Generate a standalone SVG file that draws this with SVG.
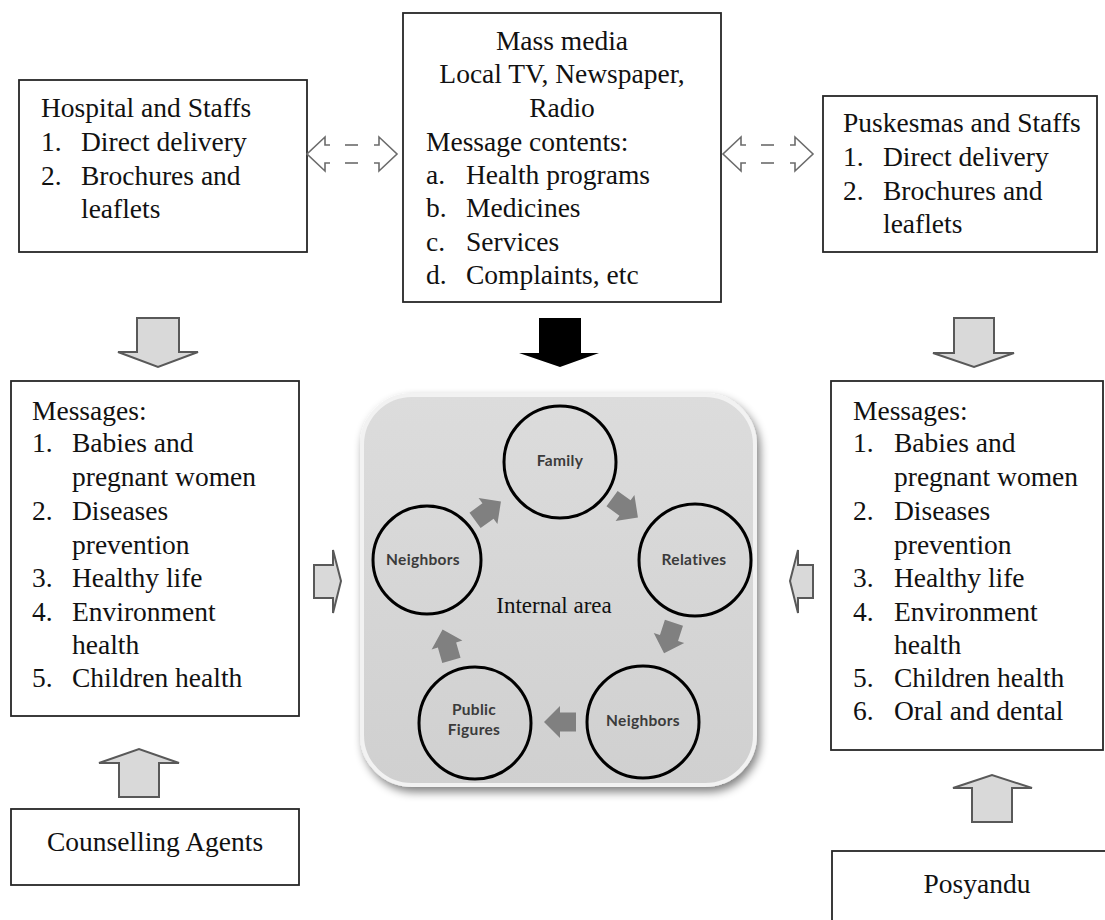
<svg xmlns="http://www.w3.org/2000/svg" width="1105" height="920" viewBox="0 0 1105 920">
<style>
.box{fill:#fff;stroke:#262626;stroke-width:1.8}
.t{font-family:"Liberation Serif","Times New Roman",serif;font-size:27.5px;fill:#111}
.m{text-anchor:middle}
.blk{fill:#d9d9d9;stroke:#595959;stroke-width:2}
.circ{fill:none;stroke:#000;stroke-width:3}
.cl{font-family:Lato,"Open Sans",sans-serif;font-weight:bold;font-size:15.5px;fill:#3b3b3b;text-anchor:middle;letter-spacing:0.3px}
.dash{fill:none;stroke:#6b6b6b;stroke-width:1.6}
.sa{fill:#808080}
</style>
<defs>
<filter id="sh" x="-10%" y="-10%" width="125%" height="125%">
<feGaussianBlur in="SourceAlpha" stdDeviation="5"/>
<feOffset dx="3" dy="5" result="b"/>
<feComponentTransfer><feFuncA type="linear" slope="0.5"/></feComponentTransfer>
<feMerge><feMergeNode/><feMergeNode in="SourceGraphic"/></feMerge>
</filter>
<linearGradient id="pg" x1="0" y1="0" x2="0" y2="1">
<stop offset="0" stop-color="#dcdcdc"/>
<stop offset="1" stop-color="#d0d0d0"/>
</linearGradient>
<path id="ca" d="M-16,-9.5 H0 V-16 L16,0 L0,16 V9.5 H-16 Z"/>
</defs>
<rect width="1105" height="920" fill="#fff"/>

<g id="hospital">
<rect class="box" x="19" y="80" width="288" height="172"/>
<text class="t" x="41" y="117">Hospital and Staffs</text>
<text class="t" x="41" y="151">1.</text><text class="t" x="81" y="151">Direct delivery</text>
<text class="t" x="41" y="185">2.</text><text class="t" x="81" y="185">Brochures and</text>
<text class="t" x="81" y="218">leaflets</text>
</g>

<g id="massmedia">
<rect class="box" x="403" y="13" width="318" height="289"/>
<text class="t m" x="562" y="50">Mass media</text>
<text class="t m" x="562" y="83">Local TV, Newspaper,</text>
<text class="t m" x="562" y="117">Radio</text>
<text class="t" x="426" y="151">Message contents:</text>
<text class="t" x="426" y="184">a.</text><text class="t" x="466" y="184">Health programs</text>
<text class="t" x="426" y="217">b.</text><text class="t" x="466" y="217">Medicines</text>
<text class="t" x="426" y="251">c.</text><text class="t" x="466" y="251">Services</text>
<text class="t" x="426" y="284">d.</text><text class="t" x="466" y="284">Complaints, etc</text>
</g>

<g id="puskesmas">
<rect class="box" x="823" y="96" width="274" height="156"/>
<text class="t" x="843" y="132">Puskesmas and Staffs</text>
<text class="t" x="843" y="166">1.</text><text class="t" x="883" y="166">Direct delivery</text>
<text class="t" x="843" y="200">2.</text><text class="t" x="883" y="200">Brochures and</text>
<text class="t" x="883" y="233">leaflets</text>
</g>

<g id="messages-left">
<rect class="box" x="11" y="381" width="288" height="335"/>
<text class="t" x="32" y="420">Messages:</text>
<text class="t" x="32" y="452">1.</text><text class="t" x="72" y="452">Babies and</text>
<text class="t" x="72" y="486">pregnant women</text>
<text class="t" x="32" y="520">2.</text><text class="t" x="72" y="520">Diseases</text>
<text class="t" x="72" y="554">prevention</text>
<text class="t" x="32" y="587">3.</text><text class="t" x="72" y="587">Healthy life</text>
<text class="t" x="32" y="621">4.</text><text class="t" x="72" y="621">Environment</text>
<text class="t" x="72" y="654">health</text>
<text class="t" x="32" y="687">5.</text><text class="t" x="72" y="687">Children health</text>
</g>

<g id="messages-right">
<rect class="box" x="831" y="381" width="272" height="369"/>
<text class="t" x="853" y="420">Messages:</text>
<text class="t" x="853" y="452">1.</text><text class="t" x="894" y="452">Babies and</text>
<text class="t" x="894" y="486">pregnant women</text>
<text class="t" x="853" y="520">2.</text><text class="t" x="894" y="520">Diseases</text>
<text class="t" x="894" y="554">prevention</text>
<text class="t" x="853" y="587">3.</text><text class="t" x="894" y="587">Healthy life</text>
<text class="t" x="853" y="621">4.</text><text class="t" x="894" y="621">Environment</text>
<text class="t" x="894" y="654">health</text>
<text class="t" x="853" y="687">5.</text><text class="t" x="894" y="687">Children health</text>
<text class="t" x="853" y="720">6.</text><text class="t" x="894" y="720">Oral and dental</text>
</g>

<g id="counselling">
<rect class="box" x="11" y="809" width="288" height="76"/>
<text class="t m" x="155" y="851">Counselling Agents</text>
</g>

<g id="posyandu">
<rect class="box" x="832" y="851" width="290" height="80"/>
<text class="t m" x="977" y="893">Posyandu</text>
</g>

<g id="internal-area">
<rect x="362" y="395" width="393" height="390" rx="50" fill="url(#pg)" stroke="#f2f2f2" stroke-width="4" filter="url(#sh)"/>
<text class="t m" x="554" y="613" style="font-size:23px">Internal area</text>
<g id="family"><circle class="circ" cx="560" cy="462" r="56"/><text class="cl" x="560" y="466">Family</text></g>
<g id="relatives"><circle class="circ" cx="695" cy="560" r="56"/><text class="cl" x="694" y="565">Relatives</text></g>
<g id="neighbors-right"><circle class="circ" cx="643" cy="722" r="56"/><text class="cl" x="643" y="726">Neighbors</text></g>
<g id="public-figures"><circle class="circ" cx="475" cy="723" r="56"/><text class="cl" x="474" y="715">Public</text><text class="cl" x="474" y="735">Figures</text></g>
<g id="neighbors-left"><circle class="circ" cx="427" cy="560" r="54"/><text class="cl" x="423" y="565">Neighbors</text></g>
</g>

<g id="connectors">
<path class="blk" d="M137,318 H179 V352 H198 L158,367 L118,352 H137 Z"/>
<path d="M539,318 H581 V353 H599 L560,367 L519,353 H539 Z" fill="#000"/>
<path class="blk" d="M954,318 H994 V353 H1014 L974,367 L933,353 H954 Z"/>
<path class="blk" d="M119,797 V763 H99 L139,749 L179,763 H159 V797 Z"/>
<path class="blk" d="M972,822 V788 H953 L992,775 L1032,788 H1012 V822 Z"/>
<path class="blk" d="M314,565 H333 V550 L341,581 L333,613 V598 H314 Z"/>
<path class="blk" d="M813,565 H798 V550 L790,581 L798,613 V598 H813 Z"/>

<g class="dash">
<polyline points="330,145 325,145 325,137 307,154 325,171 325,163 330,163"/>
<polyline points="374,145 379,145 379,137 397,154 379,171 379,163 374,163"/>
<line x1="345" y1="145" x2="358" y2="145"/><line x1="345" y1="163" x2="358" y2="163"/>
<polyline points="746,145 741,145 741,137 723,154 741,171 741,163 746,163"/>
<polyline points="790,145 795,145 795,137 813,154 795,171 795,163 790,163"/>
<line x1="761" y1="145" x2="774" y2="145"/><line x1="761" y1="163" x2="774" y2="163"/>
</g>

<use href="#ca" class="sa" transform="translate(625,508) rotate(36)"/>
<use href="#ca" class="sa" transform="translate(669,638) rotate(108)"/>
<use href="#ca" class="sa" transform="translate(560,722) rotate(180)"/>
<use href="#ca" class="sa" transform="translate(447,645) rotate(-106)"/>
<use href="#ca" class="sa" transform="translate(488,511) rotate(-36)"/>
</g>
</svg>
